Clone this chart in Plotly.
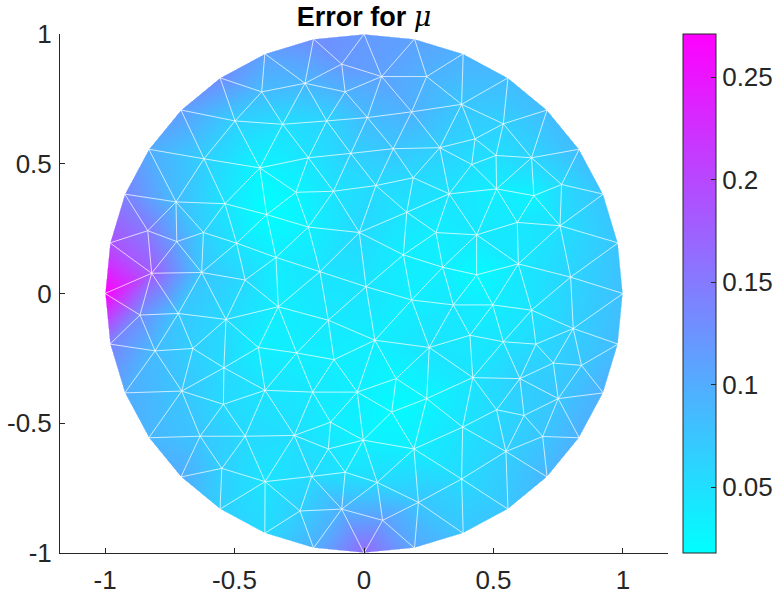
import numpy as np
import plotly.graph_objects as go

# ---------------- data: mesh nodes (x, y) and error value at each node ----------------
# boundary nodes (counter-clockwise from (1,0))
BND_X = [1.000, 0.981, 0.924, 0.831, 0.707, 0.556, 0.383, 0.195, 0.000, -0.195, -0.383, -0.556,
         -0.707, -0.831, -0.924, -0.981, -1.000, -0.981, -0.924, -0.831, -0.707, -0.556, -0.383,
         -0.195, 0.000, 0.195, 0.383, 0.556, 0.707, 0.831, 0.924, 0.981]
BND_Y = [0.000, 0.195, 0.383, 0.556, 0.707, 0.831, 0.924, 0.981, 1.000, 0.981, 0.924, 0.831,
         0.707, 0.556, 0.383, 0.195, 0.000, -0.195, -0.383, -0.556, -0.707, -0.831, -0.924,
         -0.981, -1.000, -0.981, -0.924, -0.831, -0.707, -0.556, -0.383, -0.195]
BND_ERR = [0.080, 0.075, 0.075, 0.085, 0.085, 0.085, 0.095, 0.110, 0.120, 0.130, 0.110, 0.130,
           0.115, 0.100, 0.140, 0.190, 0.271, 0.140, 0.100, 0.090, 0.100, 0.065, 0.055,
           0.095, 0.165, 0.105, 0.075, 0.075, 0.090, 0.095, 0.095, 0.085]

# interior nodes, upper-left quadrant
UL_X = [-0.086, -0.228, -0.073, -0.395, -0.498, -0.314, -0.144, -0.618, -0.402, -0.215, -0.051,
        -0.263, -0.118, -0.726, -0.537, -0.376, -0.835, -0.620, -0.215, -0.018, -0.723, -0.492,
        -0.340, -0.820, -0.627, -0.459, -0.170]
UL_Y = [0.884, 0.810, 0.777, 0.777, 0.665, 0.652, 0.665, 0.519, 0.484, 0.523, 0.540,
        0.390, 0.394, 0.353, 0.346, 0.304, 0.242, 0.235, 0.256, 0.235, 0.200, 0.194,
        0.139, 0.078, 0.081, 0.052, 0.084]
UL_ERR = [0.120, 0.090, 0.095, 0.085, 0.065, 0.050, 0.060, 0.065, 0.028, 0.045, 0.065,
          0.028, 0.045, 0.085, 0.045, 0.018, 0.150, 0.065, 0.032, 0.055, 0.110, 0.045,
          0.035, 0.180, 0.075, 0.055, 0.045]

# interior nodes, upper-right quadrant
UR_X = [0.068, 0.242, 0.184, 0.377, 0.013, 0.113, 0.293, 0.429, 0.538, 0.510, 0.416, 0.647,
        0.046, 0.190, 0.329, 0.512, 0.656, 0.763, 0.165, 0.278, 0.435, 0.592, 0.757, 0.152,
        0.304, 0.435, 0.596, 0.798, 0.008]
UR_Y = [0.836, 0.836, 0.700, 0.729, 0.678, 0.558, 0.562, 0.596, 0.654, 0.532, 0.497, 0.523,
        0.416, 0.446, 0.384, 0.403, 0.377, 0.420, 0.313, 0.235, 0.226, 0.274, 0.261, 0.149,
        0.101, 0.072, 0.114, 0.063, 0.026]
UR_ERR = [0.110, 0.095, 0.095, 0.075, 0.085, 0.075, 0.065, 0.060, 0.065, 0.050, 0.050, 0.060,
          0.055, 0.055, 0.045, 0.035, 0.030, 0.055, 0.045, 0.035, 0.040, 0.040, 0.050, 0.035,
          0.035, 0.022, 0.040, 0.060, 0.045]

# interior nodes, lower-left quadrant
LL_X = [-0.865, -0.717, -0.533, -0.331, -0.138, -0.807, -0.661, -0.408, -0.260, -0.116, -0.541,
        -0.704, -0.382, -0.198, -0.026, -0.543, -0.129, -0.633, -0.459, -0.269, -0.138, -0.003,
        -0.549, -0.382, -0.202, -0.073, -0.247, -0.086]
LL_Y = [-0.083, -0.077, -0.100, -0.051, -0.103, -0.221, -0.212, -0.208, -0.229, -0.255, -0.286,
        -0.376, -0.373, -0.380, -0.380, -0.427, -0.496, -0.550, -0.550, -0.547, -0.599, -0.565,
        -0.674, -0.725, -0.705, -0.689, -0.838, -0.831]
LL_ERR = [0.130, 0.075, 0.055, 0.035, 0.040, 0.085, 0.065, 0.035, 0.035, 0.035, 0.055,
          0.075, 0.045, 0.040, 0.035, 0.055, 0.035, 0.075, 0.055, 0.050, 0.045, 0.032,
          0.065, 0.045, 0.055, 0.045, 0.065, 0.095]

# interior nodes, lower-right quadrant
LR_X = [0.184, 0.345, 0.497, 0.647, 0.808, 0.042, 0.252, 0.409, 0.538, 0.664, 0.731, 0.840,
        0.124, 0.420, 0.602, 0.750, 0.242, 0.107, 0.512, 0.618, 0.690, 0.381, 0.193, 0.548,
        0.051, 0.377, 0.210, 0.072]
LR_Y = [-0.025, -0.044, -0.044, -0.064, -0.135, -0.180, -0.208, -0.161, -0.186, -0.195, -0.268,
        -0.277, -0.328, -0.324, -0.328, -0.405, -0.405, -0.457, -0.448, -0.470, -0.551, -0.515,
        -0.599, -0.609, -0.728, -0.715, -0.805, -0.874]
LR_ERR = [0.035, 0.040, 0.035, 0.045, 0.065, 0.035, 0.045, 0.040, 0.045, 0.055, 0.065, 0.075,
          0.028, 0.045, 0.065, 0.075, 0.028, 0.022, 0.055, 0.065, 0.075, 0.045, 0.035, 0.065,
          0.055, 0.055, 0.075, 0.115]

X_TICKS = [-1, -0.5, 0, 0.5, 1]
X_TICK_TEXT = ["-1", "-0.5", "0", "0.5", "1"]
Y_TICKS = [-1, -0.5, 0, 0.5, 1]
Y_TICK_TEXT = ["-1", "-0.5", "0", "0.5", "1"]
CB_TICKS = [0.05, 0.1, 0.15, 0.2, 0.25]
CB_TICK_TEXT = ["0.05", "0.1", "0.15", "0.2", "0.25"]
TITLE = "<b>Error for </b><span style=\"font-family:'DejaVu Serif'\"><i>μ</i></span>"

# ---------------- assemble nodes ----------------
px_ = np.array(BND_X + UL_X + UR_X + LL_X + LR_X, dtype=float)
py_ = np.array(BND_Y + UL_Y + UR_Y + LL_Y + LR_Y, dtype=float)
pv_ = np.array(BND_ERR + UL_ERR + UR_ERR + LL_ERR + LR_ERR, dtype=float)
n = len(px_)


# ---------------- Delaunay triangulation (Bowyer-Watson) ----------------
def circum(ax, ay, bx, by, cx, cy):
    d = 2.0 * (ax * (by - cy) + bx * (cy - ay) + cx * (ay - by))
    ux = ((ax * ax + ay * ay) * (by - cy) + (bx * bx + by * by) * (cy - ay) + (cx * cx + cy * cy) * (ay - by)) / d
    uy = ((ax * ax + ay * ay) * (cx - bx) + (bx * bx + by * by) * (ax - cx) + (cx * cx + cy * cy) * (bx - ax)) / d
    return ux, uy, (ax - ux) ** 2 + (ay - uy) ** 2


allx = list(px_) + [-1000.0, 1000.0, 0.0]
ally = list(py_) + [-1000.0, -1000.0, 1000.0]
tris = {}
t0 = (n, n + 1, n + 2)
tris[t0] = circum(allx[n], ally[n], allx[n + 1], ally[n + 1], allx[n + 2], ally[n + 2])
for i in range(n):
    x0, y0 = allx[i], ally[i]
    bad = [t for t, (ux, uy, r2) in tris.items() if (x0 - ux) ** 2 + (y0 - uy) ** 2 < r2]
    ecount = {}
    for t in bad:
        for a, b in ((t[0], t[1]), (t[1], t[2]), (t[2], t[0])):
            k = (min(a, b), max(a, b))
            ecount[k] = ecount.get(k, 0) + 1
        del tris[t]
    for (a, b), c in ecount.items():
        if c == 1:
            nt = (a, b, i)
            tris[nt] = circum(allx[a], ally[a], allx[b], ally[b], x0, y0)
triangles = [t for t in tris if max(t) < n]

# ---------------- piecewise-linear field on a pixel grid ----------------
XR = [-1.174, 1.174]
YR = [-1.0, 1.0]
NX, NY = 608, 519
gx = XR[0] + (np.arange(NX) + 0.5) * (XR[1] - XR[0]) / NX
gy = YR[0] + (np.arange(NY) + 0.5) * (YR[1] - YR[0]) / NY
Z = np.full((NY, NX), np.nan)
for (a, b, c) in triangles:
    xa, ya, xb, yb, xc, yc = px_[a], py_[a], px_[b], py_[b], px_[c], py_[c]
    i0 = np.searchsorted(gx, min(xa, xb, xc)); i1 = np.searchsorted(gx, max(xa, xb, xc))
    j0 = np.searchsorted(gy, min(ya, yb, yc)); j1 = np.searchsorted(gy, max(ya, yb, yc))
    if i1 <= i0 or j1 <= j0:
        continue
    XX, YY = np.meshgrid(gx[i0:i1], gy[j0:j1])
    det = (yb - yc) * (xa - xc) + (xc - xb) * (ya - yc)
    l1 = ((yb - yc) * (XX - xc) + (xc - xb) * (YY - yc)) / det
    l2 = ((yc - ya) * (XX - xc) + (xa - xc) * (YY - yc)) / det
    l3 = 1 - l1 - l2
    m = (l1 >= -1e-9) & (l2 >= -1e-9) & (l3 >= -1e-9)
    sub = Z[j0:j1, i0:i1]
    sub[m] = (l1 * pv_[a] + l2 * pv_[b] + l3 * pv_[c])[m]
    Z[j0:j1, i0:i1] = sub

# edges
edges = set()
for (a, b, c) in triangles:
    for u, v in ((a, b), (b, c), (c, a)):
        edges.add((min(u, v), max(u, v)))
ex, ey = [], []
for u, v in sorted(edges):
    ex += [px_[u], px_[v], None]
    ey += [py_[u], py_[v], None]

AX = "#262626"
FONT = "Liberation Sans, Arial, Helvetica, sans-serif"
TICK_SIZE = 26

fig = go.Figure()
fig.add_trace(go.Heatmap(
    x=gx, y=gy, z=Z, zmin=float(pv_.min()), zmax=float(pv_.max()),
    colorscale=[[0, "rgb(0,255,255)"], [1, "rgb(255,0,255)"]],
    hoverinfo="skip",
    colorbar=dict(
        x=(683 - 60) / 608, xanchor="left", y=0.5, yanchor="middle",
        len=1, lenmode="fraction", thickness=33, thicknessmode="pixels",
        xpad=0, ypad=0, outlinewidth=1, outlinecolor=AX,
        tickvals=CB_TICKS, ticktext=CB_TICK_TEXT, ticks="inside", ticklen=5,
        tickcolor=AX, tickwidth=1,
        tickfont=dict(family=FONT, size=TICK_SIZE, color=AX),
    ),
))
fig.add_trace(go.Scatter(
    x=ex, y=ey, mode="lines", hoverinfo="skip", showlegend=False,
    line=dict(color="rgba(255,255,255,0.8)", width=0.9),
))

axis_common = dict(
    showgrid=False, zeroline=False, showline=True, linecolor=AX, linewidth=1,
    ticks="inside", ticklen=5, tickcolor=AX, tickwidth=1, mirror=False,
    tickfont=dict(family=FONT, size=TICK_SIZE, color=AX),
)
fig.update_layout(
    width=780, height=596,
    margin=dict(l=60, r=112, t=34, b=43, autoexpand=False),
    paper_bgcolor="white", plot_bgcolor="white",
    showlegend=False,
    title=dict(text=TITLE, x=0.5, xref="paper", xanchor="center",
               y=1 - 17 / 596, yref="container", yanchor="middle",
               font=dict(family=FONT, size=27, color="black")),
    xaxis=dict(range=XR, tickvals=X_TICKS, ticktext=X_TICK_TEXT,
               ticklabelstandoff=4, **axis_common),
    yaxis=dict(range=YR, tickvals=Y_TICKS, ticktext=Y_TICK_TEXT,
               ticklabelstandoff=2, **axis_common),
)

fig.write_html("out.html")
